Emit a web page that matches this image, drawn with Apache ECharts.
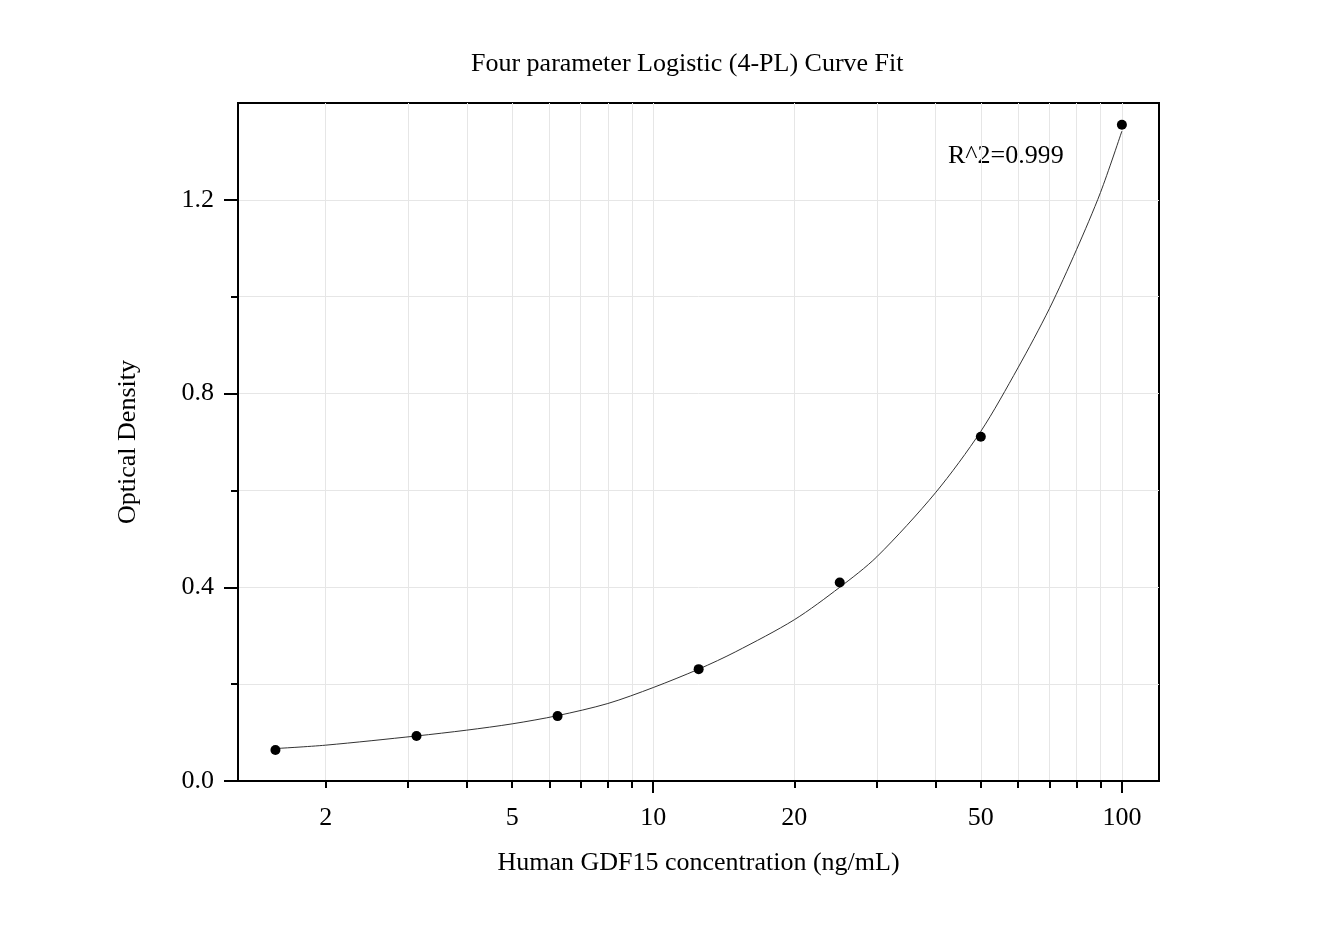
<!DOCTYPE html>
<html>
<head>
<meta charset="utf-8">
<script src="https://cdn.jsdelivr.net/npm/echarts@6/dist/echarts.min.js"></script>
<style>html,body{margin:0;padding:0;background:#fff}#c{width:1344px;height:934px}</style>
</head>
<body>
<div id="c"></div>
<script>
// Standard points (concentration ng/mL, OD)
var concentrations = [1.5625, 3.125, 6.25, 12.5, 25, 50, 100];
var odValues = [0.064, 0.093, 0.134, 0.231, 0.410, 0.711, 1.355];
// Fitted curve
var curveX = [1.5625, 2, 3.125, 4, 5, 6.25, 8, 10, 12.5, 15, 20, 25, 30, 40, 50, 60, 70, 80, 90, 100];
var curveY = [0.067, 0.074, 0.093, 0.105, 0.118, 0.135, 0.160, 0.193, 0.231, 0.267, 0.333, 0.400, 0.463, 0.595, 0.722, 0.853, 0.975, 1.097, 1.215, 1.342];
// Axis ticks
var xMajorTicks = [10, 100];
var xMinorTicks = [2, 3, 4, 5, 6, 7, 8, 9, 20, 30, 40, 50, 60, 70, 80, 90];
var xTickLabels = [2, 5, 10, 20, 50, 100];
var yMajorTicks = [0, 0.4, 0.8, 1.2];
var yMinorTicks = [0.2, 0.6, 1.0];

var FONT = '"Liberation Serif", "DejaVu Serif", serif';
var chart = echarts.init(document.getElementById('c'));
var gridColor = '#e6e6e6';
var scatterData = concentrations.map(function (c, i) { return [c, odValues[i]]; });
var curveData = curveX.map(function (c, i) { return [c, curveY[i]]; });

chart.setOption({
  animation: false,
  backgroundColor: '#fff',
  title: {
    text: 'Four parameter Logistic (4-PL) Curve Fit',
    left: 466, top: 46,
    textStyle: { fontFamily: FONT, fontSize: 26, fontWeight: 'normal', color: '#000' }
  },
  grid: { left: 238, right: 185, top: 103, bottom: 153, show: true, borderColor: '#000', borderWidth: 2, backgroundColor: 'transparent' },
  xAxis: [{
    type: 'log', logBase: 10, min: 1.3, max: 120, position: 'bottom',
    name: 'Human GDF15 concentration (ng/mL)', nameLocation: 'middle', nameGap: 69,
    nameTextStyle: { fontFamily: FONT, fontSize: 26, color: '#000' },
    axisLine: { show: true, lineStyle: { color: '#000', width: 2 } },
    axisTick: { show: true, length: 12, lineStyle: { color: '#000', width: 2 }, customValues: xMajorTicks },
    axisLabel: { show: true, customValues: xTickLabels, margin: 24, fontFamily: FONT, fontSize: 26, color: '#000' },
    splitLine: { show: true, lineStyle: { color: gridColor, width: 1 } }
  }, {
    type: 'log', logBase: 10, min: 1.3, max: 120, position: 'bottom',
    axisLine: { show: false },
    axisTick: { show: true, length: 7, lineStyle: { color: '#000', width: 2 }, customValues: xMinorTicks },
    axisLabel: { show: false },
    splitLine: { show: true, lineStyle: { color: gridColor, width: 1 } }
  }],
  yAxis: [{
    type: 'value', min: 0, max: 1.4, position: 'left',
    name: 'Optical Density', nameLocation: 'middle', nameGap: 97,
    nameTextStyle: { fontFamily: FONT, fontSize: 26, color: '#000' },
    axisLine: { show: true, lineStyle: { color: '#000', width: 2 } },
    axisTick: { show: true, length: 14, lineStyle: { color: '#000', width: 2 }, customValues: yMajorTicks },
    axisLabel: { show: true, customValues: yMajorTicks, margin: 24, fontFamily: FONT, fontSize: 26, color: '#000',
      formatter: function (v) { return v.toFixed(1); } },
    splitLine: { show: true, lineStyle: { color: gridColor, width: 1 } }
  }, {
    type: 'value', min: 0, max: 1.4, position: 'left',
    axisLine: { show: false },
    axisTick: { show: true, length: 7, lineStyle: { color: '#000', width: 2 }, customValues: yMinorTicks },
    axisLabel: { show: false },
    splitLine: { show: true, lineStyle: { color: gridColor, width: 1 } }
  }],
  series: [{
    type: 'line', xAxisIndex: 0, yAxisIndex: 0, data: curveData, smooth: 0.3, showSymbol: false,
    lineStyle: { color: '#333', width: 1 }, z: 3, silent: true
  }, {
    type: 'scatter', xAxisIndex: 0, yAxisIndex: 0, data: scatterData, symbolSize: 10,
    itemStyle: { color: '#000', opacity: 1 }, z: 4
  }],
  graphic: [{
    type: 'text', left: 948, top: 143,
    style: { text: 'R^2=0.999', fontFamily: FONT, fontSize: 26, fill: '#000' }
  }]
});
</script>
</body>
</html>
